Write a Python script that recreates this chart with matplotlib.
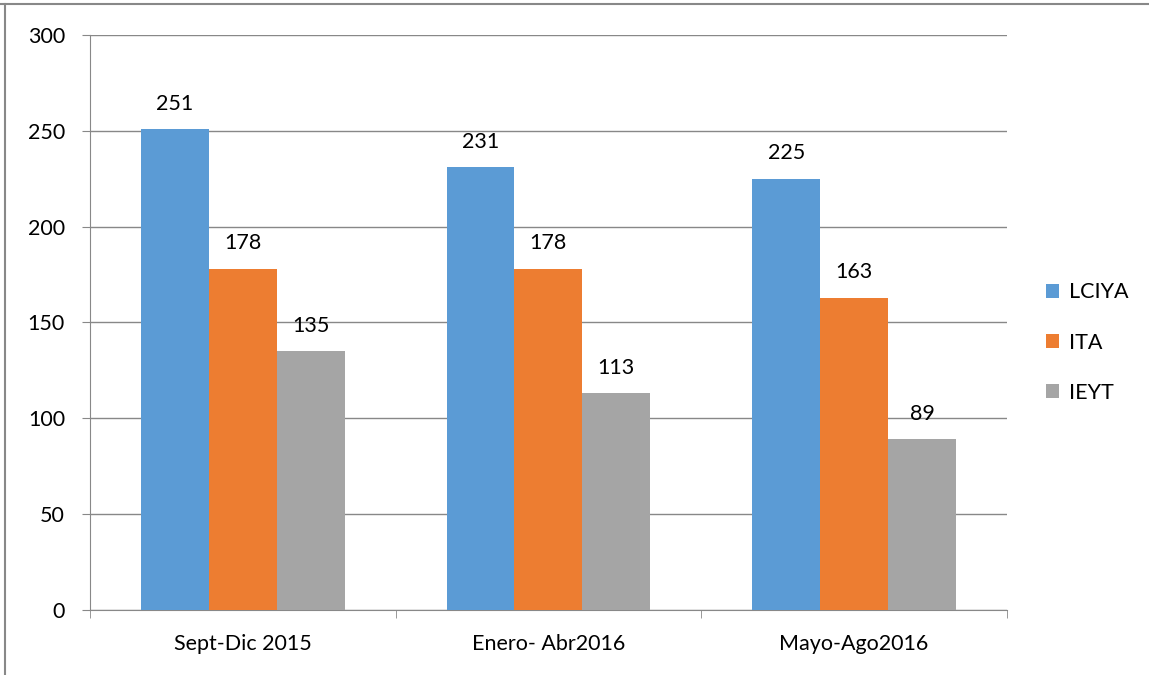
import numpy as np
import matplotlib.pyplot as plt
from matplotlib.lines import Line2D

plt.rcParams['font.family'] = ['Lato', 'DejaVu Sans']

categories = ['Sept-Dic 2015', 'Enero- Abr2016', 'Mayo-Ago2016']
series_names = ['LCIYA', 'ITA', 'IEYT']
lciya = [251, 231, 225]
ita = [178, 178, 163]
ieyt = [135, 113, 89]
colors = ['#5B9BD5', '#ED7D31', '#A5A5A5']

fs = 15.5

fig = plt.figure(figsize=(11.49, 6.75), dpi=100)
ax = fig.add_axes([0.0783, 0.0963, 0.798, 0.852])

x = np.arange(len(categories))
width = 0.2222
for i, (name, vals) in enumerate(zip(series_names, [lciya, ita, ieyt])):
    bars = ax.bar(x + (i - 1) * width, vals, width, color=colors[i], label=name, zorder=3)
    for b, v in zip(bars, vals):
        ax.annotate(str(v), (b.get_x() + b.get_width() / 2, v),
                    xytext=(0, 11), textcoords='offset points',
                    ha='center', va='bottom', fontsize=fs, color='#000000')

ax.set_xlim(-0.5, 2.5)
ax.set_ylim(0, 300)
ax.set_yticks(range(0, 301, 50))
ax.set_xticks(x)
ax.set_xticklabels(categories)
ax.set_xticks([-0.5, 0.5, 1.5, 2.5], minor=True)
ax.tick_params(axis='x', which='major', length=0, pad=17, labelsize=fs)
ax.tick_params(axis='x', which='minor', length=6, color='#888888', direction='out')
ax.tick_params(axis='y', length=6, color='#888888', pad=12, labelsize=fs)

ax.yaxis.grid(True, color='#888888', linewidth=1, zorder=0)
for s in ['top', 'right']:
    ax.spines[s].set_visible(False)
ax.spines['left'].set_color('#888888')
ax.spines['bottom'].set_color('#888888')

ax.legend(loc='center left', bbox_to_anchor=(1.022, 0.465), frameon=False,
          fontsize=fs, handlelength=0.6, handleheight=0.6,
          handletextpad=0.45, labelspacing=1.4)

# outer frame lines
fig.add_artist(Line2D([0, 1], [0.994, 0.994], transform=fig.transFigure,
                      color='#888888', linewidth=1.5))
fig.add_artist(Line2D([0.0045, 0.0045], [0, 0.994], transform=fig.transFigure,
                      color='#888888', linewidth=1.5))

fig.savefig('out.png', dpi=100)
